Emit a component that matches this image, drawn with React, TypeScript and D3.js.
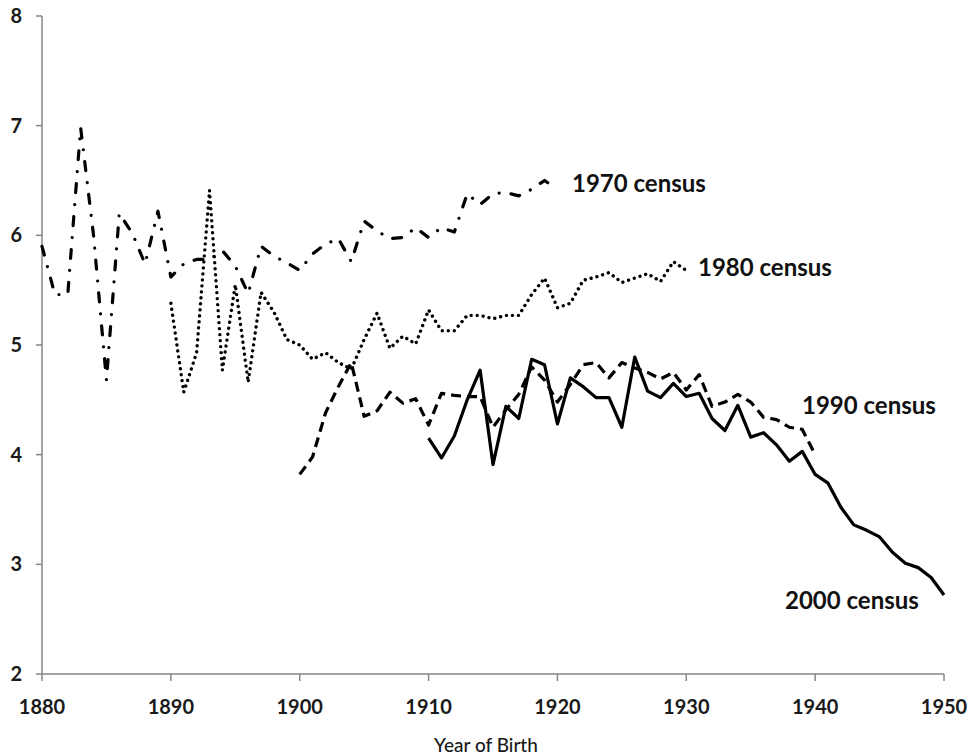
import React from "react";
import * as d3 from "d3";

// Birth-year coverage of each census series
const years1970 = d3.range(1880, 1921);
const years1980 = d3.range(1890, 1931);
const years1990 = d3.range(1900, 1941);
const years2000 = d3.range(1910, 1951);

const census1970 = [
  5.9, 5.46, 5.46, 6.98, 6.0, 4.68, 6.2, 6.02, 5.74, 6.22,
  5.62, 5.74, 5.78, 5.78, 5.86, 5.72, 5.47, 5.9, 5.81, 5.75,
  5.68, 5.83, 5.92, 5.97, 5.76, 6.13, 6.04, 5.97, 5.98, 6.07,
  5.98, 6.07, 6.03, 6.38, 6.28, 6.38, 6.39, 6.36, 6.42, 6.5,
  6.42,
];

const census1980 = [
  5.38, 4.57, 4.93, 6.41, 4.77, 5.55, 4.66, 5.48, 5.3, 5.05,
  5.0, 4.87, 4.93, 4.84, 4.78, 5.05, 5.29, 4.97, 5.08, 5.01,
  5.32, 5.13, 5.13, 5.27, 5.27, 5.24, 5.27, 5.27, 5.46, 5.61,
  5.34, 5.38, 5.59, 5.62, 5.66, 5.57, 5.61, 5.65, 5.58, 5.76,
  5.68,
];

const census1990 = [
  3.82, 3.98, 4.38, 4.62, 4.84, 4.35, 4.4, 4.57, 4.47, 4.51,
  4.27, 4.56, 4.54, 4.53, 4.53, 4.25, 4.41, 4.55, 4.8, 4.68,
  4.48, 4.64, 4.82, 4.84, 4.7, 4.84, 4.79, 4.75, 4.69, 4.75,
  4.59, 4.73, 4.44, 4.48, 4.55, 4.48, 4.34, 4.32, 4.25, 4.23,
  4.0,
];

const census2000 = [
  4.15, 3.97, 4.17, 4.5, 4.77, 3.91, 4.44, 4.33, 4.87, 4.82,
  4.28, 4.7, 4.62, 4.52, 4.52, 4.25, 4.89, 4.58, 4.52, 4.65,
  4.53, 4.56, 4.33, 4.22, 4.45, 4.16, 4.2, 4.09, 3.94, 4.03,
  3.82, 3.74, 3.52, 3.36, 3.31, 3.25, 3.11, 3.01, 2.97, 2.88,
  2.72,
];

const xTicks = [1880, 1890, 1900, 1910, 1920, 1930, 1940, 1950];
const yTicks = [2, 3, 4, 5, 6, 7, 8];

const seriesLabels = ["1970 census", "1980 census", "1990 census", "2000 census"];
const xTitle = "Year of Birth";

const WIDTH = 972;
const HEIGHT = 756;

const x = d3.scaleLinear().domain([1880, 1950]).range([42, 944]);
const y = d3.scaleLinear().domain([2, 8]).range([674, 16]);

const line = d3
  .line<[number, number]>()
  .x((d) => x(d[0]))
  .y((d) => y(d[1]));

const zip = (ys: number[], vs: number[]): [number, number][] =>
  ys.map((yr, i) => [yr, vs[i]]);

const series = [
  { years: years1970, values: census1970, dash: "9 12 0.01 12", cap: "round", width: 3.2 },
  { years: years1980, values: census1980, dash: "0.01 6", cap: "round", width: 3.4 },
  { years: years1990, values: census1990, dash: "10 6", cap: "butt", width: 3.2 },
  { years: years2000, values: census2000, dash: "none", cap: "butt", width: 3.2 },
];

// Label anchors: [left x in pixels, value on the y scale]
const labelPos: [number, number][] = [
  [572, 6.47],
  [698, 5.71],
  [802, 4.45],
  [785, 2.67],
];

const FONT = "Lato, 'Open Sans', sans-serif";
const AXIS = "#868686";

export default function App() {
  return (
    <svg
      width={WIDTH}
      height={HEIGHT}
      style={{ position: "absolute", left: 0, top: 0, background: "#fff" }}
    >
      <rect width={WIDTH} height={HEIGHT} fill="#fff" />

      {/* y axis */}
      <line x1={x(1880)} x2={x(1880)} y1={y(8)} y2={y(2)} stroke={AXIS} strokeWidth={1.5} />
      {yTicks.map((t) => (
        <g key={t}>
          <line x1={x(1880) - 6} x2={x(1880)} y1={y(t)} y2={y(t)} stroke={AXIS} strokeWidth={1.5} />
          <text
            x={22}
            y={y(t)}
            dy="0.35em"
            textAnchor="end"
            fontFamily={FONT}
            fontWeight={700}
            fontSize={20}
            fill="#1a1a1a"
          >
            {t}
          </text>
        </g>
      ))}

      {/* x axis */}
      <line x1={x(1880)} x2={x(1950)} y1={y(2)} y2={y(2)} stroke={AXIS} strokeWidth={1.5} />
      {xTicks.map((t) => (
        <g key={t}>
          <line x1={x(t)} x2={x(t)} y1={y(2)} y2={y(2) + 7} stroke={AXIS} strokeWidth={1.5} />
          <text
            x={x(t)}
            y={707}
            dy="0.35em"
            textAnchor="middle"
            fontFamily={FONT}
            fontWeight={700}
            fontSize={20}
            fill="#1a1a1a"
          >
            {t}
          </text>
        </g>
      ))}
      <text
        x={486}
        y={745}
        dy="0.35em"
        textAnchor="middle"
        fontFamily={FONT}
        fontWeight={500}
        fontSize={19}
        fill="#1a1a1a"
      >
        {xTitle}
      </text>

      {/* census series */}
      {series.map((s, i) => (
        <path
          key={i}
          d={line(zip(s.years, s.values)) || ""}
          fill="none"
          stroke="#000"
          strokeWidth={s.width}
          strokeDasharray={s.dash}
          strokeLinecap={s.cap as "round" | "butt"}
          strokeLinejoin="round"
        />
      ))}

      {seriesLabels.map((label, i) => (
        <text
          key={label}
          x={labelPos[i][0]}
          y={y(labelPos[i][1])}
          dy="0.35em"
          fontFamily={FONT}
          fontWeight={700}
          fontSize={24}
          fill="#111"
        >
          {label}
        </text>
      ))}
    </svg>
  );
}
